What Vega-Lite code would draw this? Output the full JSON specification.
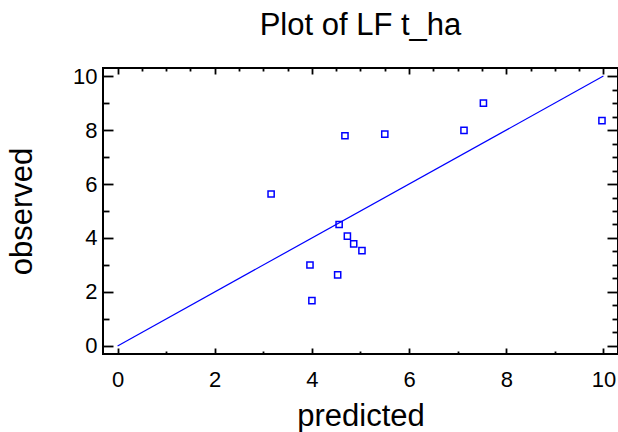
{
  "$schema": "https://vega.github.io/schema/vega-lite/v6.json",
  "width": 515,
  "height": 286,
  "autosize": {"type": "none"},
  "padding": {"left": 103, "top": 68, "right": 0, "bottom": 78},
  "background": "white",
  "config": {
    "view": {"stroke": "black", "strokeWidth": 2},
    "font": "Liberation Sans",
    "axis": {
      "domain": false,
      "grid": false,
      "tickColor": "black",
      "tickWidth": 1.8,
      "labelColor": "black",
      "titleColor": "black",
      "labelFont": "Liberation Sans",
      "titleFont": "Liberation Sans",
      "titleFontWeight": "normal",
      "labelFlush": false,
      "labelOverlap": false
    }
  },
  "title": {
    "text": "Plot of LF t_ha",
    "fontSize": 31,
    "fontWeight": "normal",
    "font": "Liberation Sans",
    "color": "black",
    "offset": -1,
    "baseline": "alphabetic"
  },
  "layer": [
    {
      "data": {"values": [{"predicted": 0, "observed": 0}, {"predicted": 10, "observed": 10}]},
      "mark": {"type": "line", "color": "#0000ff", "strokeWidth": 1.2, "clip": true},
      "encoding": {
        "x": {
          "field": "predicted", "type": "quantitative",
          "scale": {"domain": [-0.3, 10.3], "nice": false, "zero": false},
          "axis": {
            "orient": "bottom",
            "values": [0,0.5,1,1.5,2,2.5,3,3.5,4,4.5,5,5.5,6,6.5,7,7.5,8,8.5,9,9.5,10],
            "format": "d",
            "labelExpr": "datum.value % 2 === 0 ? datum.label : ''",
            "tickSize": {"condition": {"test": "datum.value % 2 === 0", "value": -6}, "value": -3},
            "labelPadding": 21,
            "labelFontSize": 22,
            "title": "predicted",
            "titleFontSize": 31,
            "titleY": 71,
            "titleBaseline": "alphabetic"
          }
        },
        "y": {
          "field": "observed", "type": "quantitative",
          "scale": {"domain": [-0.3, 10.3], "nice": false, "zero": false},
          "axis": {
            "orient": "left",
            "values": [0,0.5,1,1.5,2,2.5,3,3.5,4,4.5,5,5.5,6,6.5,7,7.5,8,8.5,9,9.5,10],
            "format": "d",
            "labelExpr": "datum.value % 2 === 0 ? datum.label : ''",
            "tickSize": {"condition": {"test": "datum.value % 2 === 0", "value": -10}, "value": -6},
            "labelPadding": 16,
            "labelFontSize": 22,
            "title": "observed",
            "titleFontSize": 31,
            "titleAngle": -90,
            "titleX": -72,
            "titleY": 143,
            "titleBaseline": "alphabetic"
          }
        }
      }
    },
    {
      "data": {"values": [
        {"predicted": 3.16, "observed": 5.63},
        {"predicted": 4.68, "observed": 7.79},
        {"predicted": 4.56, "observed": 4.50},
        {"predicted": 4.73, "observed": 4.07},
        {"predicted": 4.86, "observed": 3.78},
        {"predicted": 3.96, "observed": 3.00},
        {"predicted": 4.53, "observed": 2.63},
        {"predicted": 4.00, "observed": 1.68},
        {"predicted": 5.03, "observed": 3.53},
        {"predicted": 5.50, "observed": 7.85},
        {"predicted": 7.13, "observed": 7.99},
        {"predicted": 7.53, "observed": 9.00},
        {"predicted": 9.97, "observed": 8.35}
      ]},
      "mark": {"type": "point", "shape": "square", "color": "#0000ff", "size": 38, "strokeWidth": 1.5, "filled": false, "opacity": 1},
      "encoding": {
        "x": {
          "field": "predicted", "type": "quantitative",
          "scale": {"domain": [-0.3, 10.3], "nice": false, "zero": false},
          "axis": {
            "orient": "top",
            "values": [0,0.5,1,1.5,2,2.5,3,3.5,4,4.5,5,5.5,6,6.5,7,7.5,8,8.5,9,9.5,10],
            "labels": false,
            "tickSize": {"condition": {"test": "datum.value % 2 === 0", "value": -6}, "value": -3},
            "title": null
          }
        },
        "y": {
          "field": "observed", "type": "quantitative",
          "scale": {"domain": [-0.3, 10.3], "nice": false, "zero": false},
          "axis": {
            "orient": "right",
            "values": [0,0.5,1,1.5,2,2.5,3,3.5,4,4.5,5,5.5,6,6.5,7,7.5,8,8.5,9,9.5,10],
            "labels": false,
            "tickSize": {"condition": {"test": "datum.value % 2 === 0", "value": -11}, "value": -6},
            "title": null
          }
        }
      }
    }
  ],
  "resolve": {"axis": {"x": "independent", "y": "independent"}}
}
